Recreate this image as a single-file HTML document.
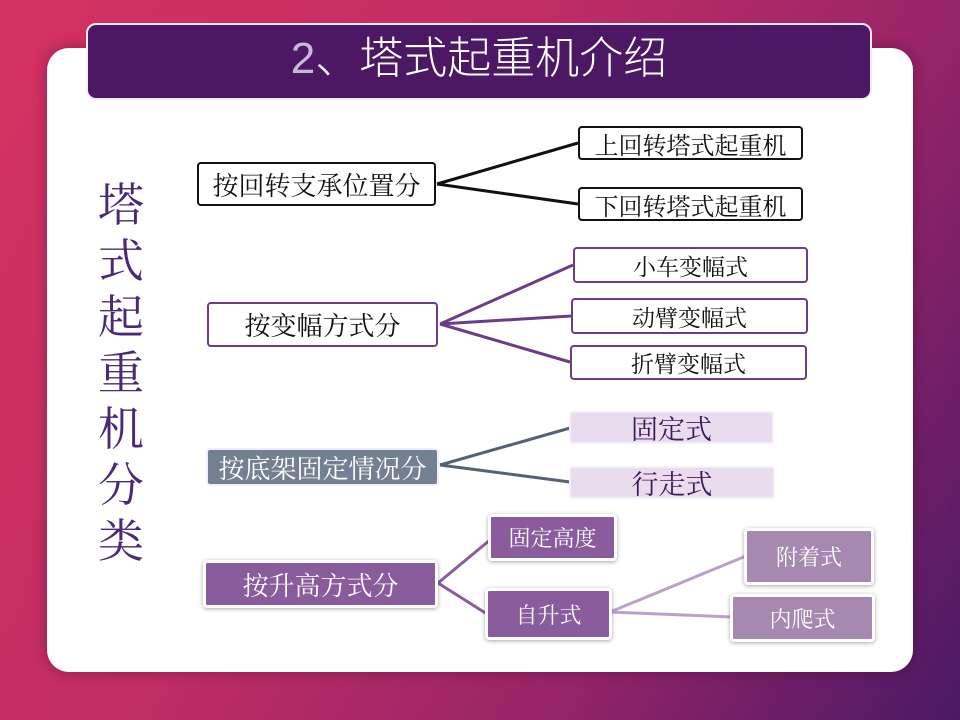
<!DOCTYPE html>
<html><head><meta charset="utf-8"><style>
*{margin:0;padding:0;box-sizing:border-box}
body{width:960px;height:720px;overflow:hidden;position:relative;background:linear-gradient(120deg,#d53262 0%,#c02d63 40%,#962468 70%,#4a1966 100%);font-family:"Liberation Serif","Noto Serif CJK SC",serif}
.panel{position:absolute;left:47px;top:48px;width:866px;height:624px;background:#fff;border-radius:22px;box-shadow:0 0 14px rgba(60,0,40,.4)}
.title{position:absolute;left:86px;top:23px;width:786px;height:77px;background:#4c1763;border:2px solid #f3eaf5;border-radius:10px;color:#fff;font-size:44px;text-align:center;line-height:68px;font-family:"Liberation Sans","Noto Sans CJK SC",sans-serif;font-weight:300}
.b{position:absolute;display:flex;align-items:center;justify-content:center;font-size:26px;border-radius:4px;white-space:nowrap}
.k{border:2.5px solid #111;background:#fff;color:#111}
.p{border:2.5px solid #6a3d8a;background:#fff;color:#111}
.g{background:#738091;color:#fff;border:2px solid #eef;}
.l{background:#e8dcee;color:#3d1a5a;font-size:27px;border:2px solid #f4f0f6}
.m{background:#8a5c9e;color:#fff;border:3px solid #fff;box-shadow:0 1px 4px rgba(0,0,0,.35)}
.n{background:#a688b0;color:#fff;border:3px solid #fff;box-shadow:0 1px 4px rgba(0,0,0,.35)}
.v{position:absolute;left:94px;top:178px;width:54px;font-size:46px;line-height:56px;color:#4a2a78;text-align:center}
</style></head><body>
<div class="panel"></div>
<div class="title"><span style="color:#c8b8d8">2</span>、塔式起重机介绍</div>
<div class="v">塔<br>式<br>起<br>重<br>机<br>分<br>类</div>
<svg width="960" height="720" style="position:absolute;left:0;top:0">
<g fill="none" stroke-width="3">
<path d="M437 184L578 143M437 184L578 204" stroke="#111"/>
<path d="M440 324L573 265M440 324L571 316M440 324L570 362" stroke="#6a3d8a"/>
<path d="M440 465L570 428M440 465L570 482" stroke="#566270"/>
<path d="M438 583L490 540M438 583L487 614" stroke="#8a5c9e"/>
<path d="M610 612L746 556M610 612L732 617" stroke="#b9a2c6"/>
</g></svg>
<div class="b k" style="left:197px;top:162px;width:239px;height:44px">按回转支承位置分</div>
<div class="b k" style="left:578px;top:126px;width:225px;height:34px;font-size:24px">上回转塔式起重机</div>
<div class="b k" style="left:578px;top:187px;width:225px;height:34px;font-size:24px">下回转塔式起重机</div>
<div class="b p" style="left:207px;top:302px;width:231px;height:45px">按变幅方式分</div>
<div class="b p" style="left:573px;top:247px;width:235px;height:36px;font-size:23px">小车变幅式</div>
<div class="b p" style="left:571px;top:298px;width:237px;height:36px;font-size:23px">动臂变幅式</div>
<div class="b p" style="left:570px;top:345px;width:237px;height:35px;font-size:23px">折臂变幅式</div>
<div class="b g" style="left:206px;top:448px;width:233px;height:38px">按底架固定情况分</div>
<div class="b l" style="left:569px;top:411px;width:205px;height:33px">固定式</div>
<div class="b l" style="left:569px;top:466px;width:206px;height:33px">行走式</div>
<div class="b m" style="left:203px;top:560px;width:235px;height:48px">按升高方式分</div>
<div class="b m" style="left:488px;top:514px;width:129px;height:47px;font-size:22px">固定高度</div>
<div class="b m" style="left:485px;top:588px;width:127px;height:52px;font-size:22px">自升式</div>
<div class="b n" style="left:744px;top:528px;width:130px;height:57px;font-size:22px">附着式</div>
<div class="b n" style="left:730px;top:594px;width:145px;height:48px;font-size:22px">内爬式</div>
</body></html>
